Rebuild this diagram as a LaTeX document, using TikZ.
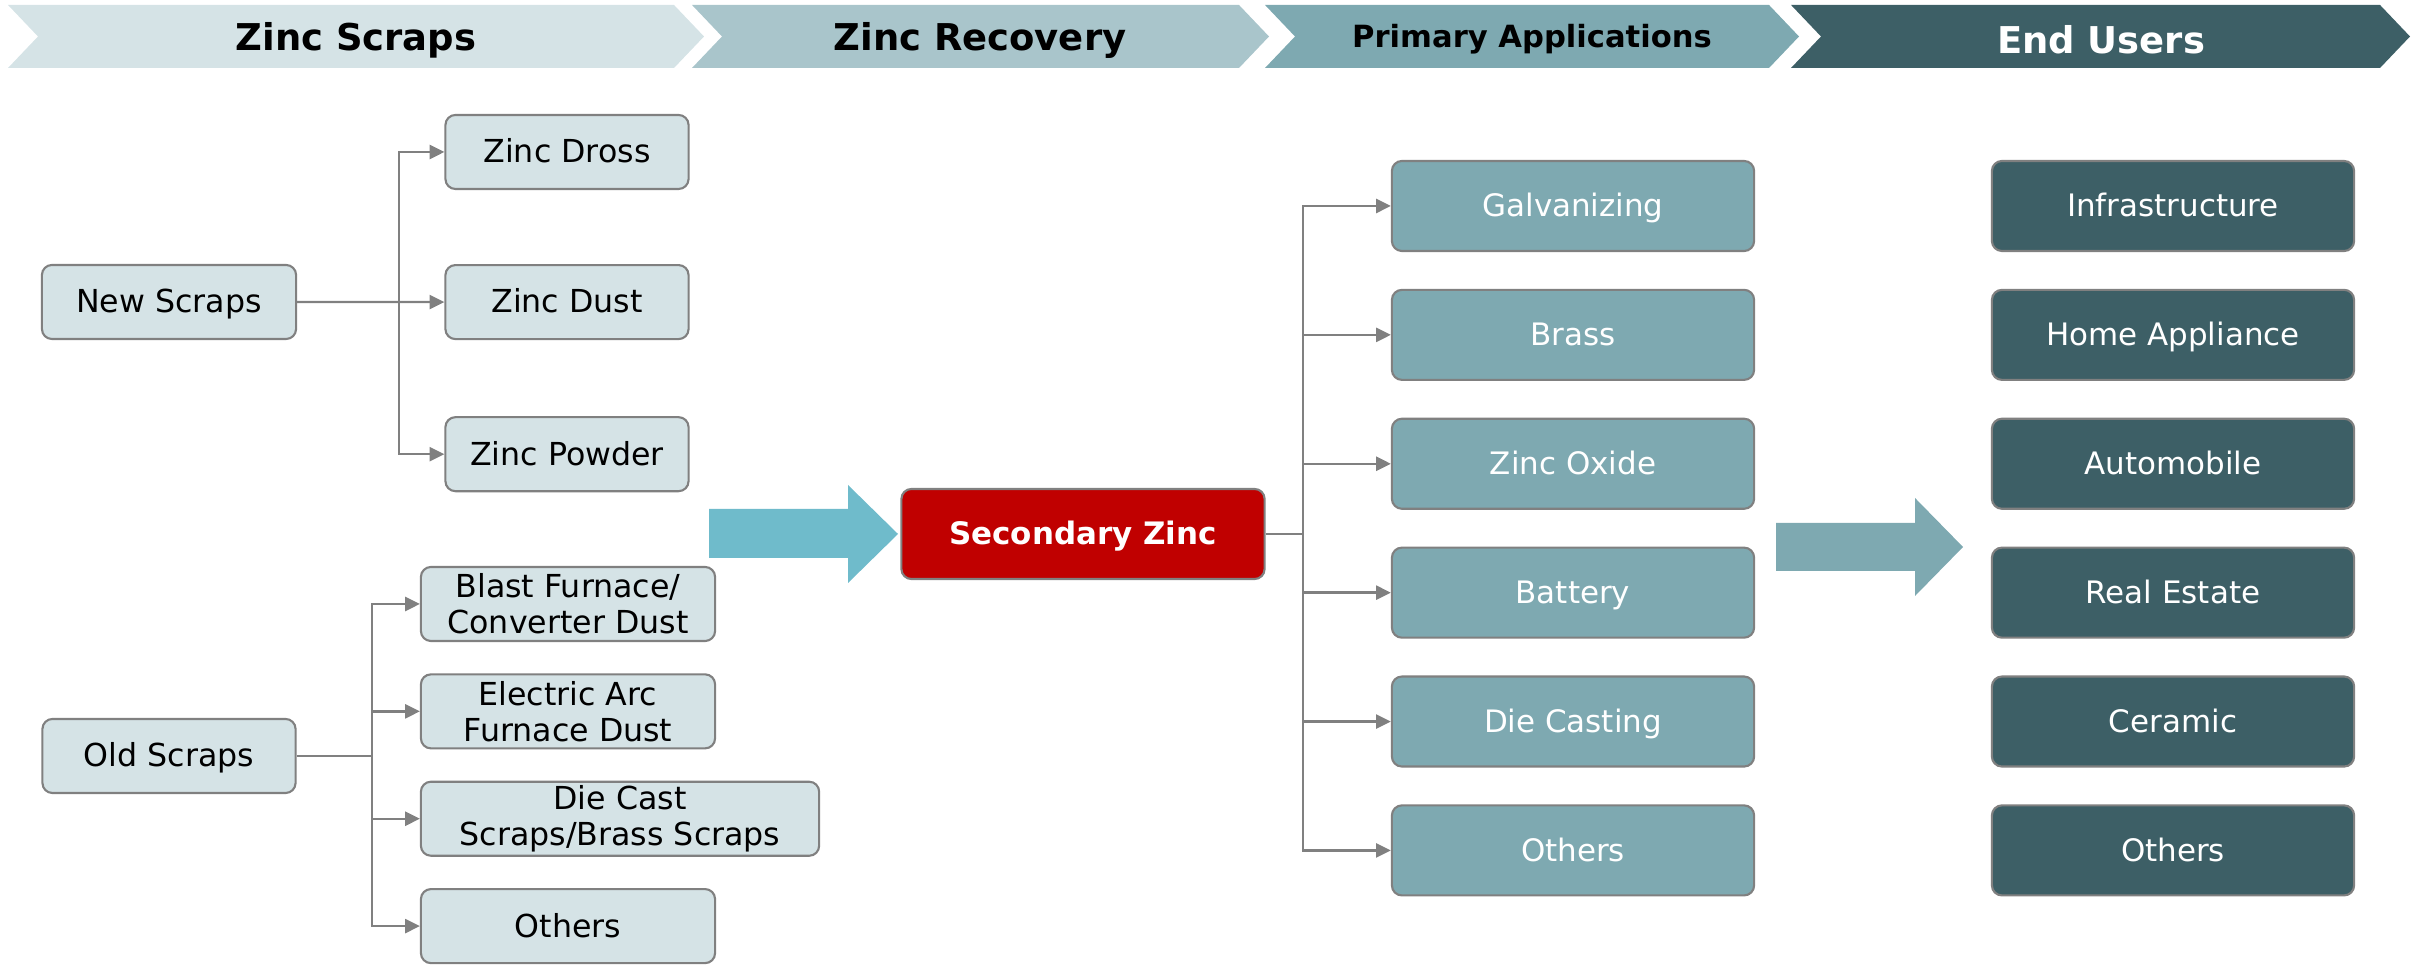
\documentclass[tikz,border=0pt]{standalone}
\usepackage{fontspec}
\setmainfont{DejaVu Sans}
\usetikzlibrary{shapes,positioning,arrows,arrows.meta,calc}
\usepackage{xcolor}

\definecolor{scrapfill}{HTML}{D5E3E6}
\definecolor{recfill}{HTML}{A9C5CB}
\definecolor{appfill}{HTML}{7EA9B1}
\definecolor{userfill}{HTML}{3D5F66}
\definecolor{zincred}{HTML}{C00000}
\definecolor{linegray}{HTML}{808080}
\definecolor{flowblue}{HTML}{6FBBCB}

\begin{document}
\begin{tikzpicture}[x=0.01cm,y=-0.01cm]

	\tikzstyle{lightbox}=[draw=linegray, line width=0.6pt, fill=scrapfill, rounded corners=1mm, minimum height=0.74cm, inner sep=0pt, align=center, text height=0.74em, text depth=0.12em, font=\fontsize{9}{10.2}\selectfont];
	\tikzstyle{twoline}=[text height=, text depth=];
	\tikzstyle{appbox}=[draw=linegray, line width=0.6pt, fill=appfill, rounded corners=1mm, minimum width=3.62cm, minimum height=0.9cm, inner sep=0pt, text=white, text height=0.74em, text depth=0.12em, font=\fontsize{8.8}{10}\selectfont];
	\tikzstyle{userbox}=[appbox, fill=userfill];
	\tikzstyle{headtext}=[font=\bfseries\fontsize{10.5}{12}\selectfont];
	\tikzstyle{conn}=[->, draw=linegray, line width=0.65pt];
	\tikzstyle{plain}=[draw=linegray, line width=0.65pt];

	\useasboundingbox (0,0) rectangle (2427,965);

    \begin{scope}[>={Triangle[length=4.2pt,width=4pt]}]

    	% header chevrons
    	\fill[scrapfill] (8,5) -- (674,5) -- (704,36.5) -- (674,68) -- (8,68) -- (38,36.5) -- cycle;
    	\fill[recfill] (692,5) -- (1239,5) -- (1269,36.5) -- (1239,68) -- (692,68) -- (722,36.5) -- cycle;
    	\fill[appfill] (1265,5) -- (1769,5) -- (1799,36.5) -- (1769,68) -- (1265,68) -- (1295,36.5) -- cycle;
    	\fill[userfill] (1791,5) -- (2380,5) -- (2410,36.5) -- (2380,68) -- (1791,68) -- (1821,36.5) -- cycle;

    	\node (hscrap) at (356,40) [headtext]{Zinc Scraps};
    	\node (hrecov) at (980,40) [headtext]{Zinc Recovery};
    	\node (happ) at (1532,39) [font=\bfseries\fontsize{8.7}{10}\selectfont]{Primary Applications};
    	\node (huser) at (2101,40) [headtext, text=white]{End Users};

    	% new scraps
    	\node (newscr) at (169,302) [lightbox, minimum width=2.54cm]{New Scraps};
    	\node (dross) at (567,152) [lightbox, minimum width=2.43cm]{Zinc Dross};
    	\node (dust) [below = 0.739cm of dross, lightbox, minimum width=2.43cm]{Zinc Dust};
    	\node (powder) [below = 0.759cm of dust, lightbox, minimum width=2.43cm]{Zinc Powder};

    	% old scraps
    	\node (oldscr) at (169,756) [lightbox, minimum width=2.53cm]{Old Scraps};
    	\node (blast) at (568,604) [lightbox, twoline, minimum width=2.94cm]{Blast Furnace/\\Converter Dust};
    	\node (arcdust) [below right = 0.312cm and 0cm of blast.south west, lightbox, twoline, minimum width=2.94cm]{Electric Arc\\Furnace Dust};
    	\node (diecast) [below right = 0.312cm and 0cm of arcdust.south west, lightbox, twoline, minimum width=3.98cm]{Die Cast\\Scraps/Brass Scraps};
    	\node (oldoth) [below right = 0.312cm and 0cm of diecast.south west, lightbox, minimum width=2.94cm]{Others};

    	% recovery
    	\fill[flowblue] (709,509) -- (848,509) -- (848,485) -- (898,534) -- (848,583) -- (848,558) -- (709,558) -- cycle;
    	\node (seczinc) at (1083,534) [appbox, fill=zincred, minimum width=3.63cm, font=\bfseries\fontsize{8.8}{10}\selectfont]{Secondary Zinc};

    	% applications
    	\node (galv) at (1573,206) [appbox]{Galvanizing};
    	\node (brass) [below = 0.367cm of galv, appbox]{Brass};
    	\node (oxide) [below = 0.367cm of brass, appbox]{Zinc Oxide};
    	\node (battery) [below = 0.367cm of oxide, appbox]{Battery};
    	\node (casting) [below = 0.367cm of battery, appbox]{Die Casting};
    	\node (appoth) [below = 0.367cm of casting, appbox]{Others};

    	\fill[appfill] (1776,523) -- (1915,523) -- (1915,498) -- (1963,547) -- (1915,596) -- (1915,571) -- (1776,571) -- cycle;

    	% end users
    	\node (infra) at (2173,206) [userbox]{Infrastructure};
    	\node (home) [below = 0.367cm of infra, userbox]{Home Appliance};
    	\node (auto) [below = 0.367cm of home, userbox]{Automobile};
    	\node (estate) [below = 0.367cm of auto, userbox]{Real Estate};
    	\node (ceramic) [below = 0.367cm of estate, userbox]{Ceramic};
    	\node (useroth) [below = 0.367cm of ceramic, userbox]{Others};

    	% connectors
    	\coordinate (nsplit) at (399,302);
    	\draw[conn] (newscr) -- (dust);
    	\draw[conn] (nsplit) |- (dross);
    	\draw[conn] (nsplit) |- (powder);

    	\coordinate (osplit) at (372,756);
    	\draw[plain] (oldscr) -- (osplit);
    	\draw[plain] (osplit |- blast) -- (osplit |- oldoth);
    	\foreach \n in {blast,arcdust,diecast,oldoth}
    		\draw[conn] (osplit) |- (\n);

    	\coordinate (ssplit) at (1303,534);
    	\draw[plain] (seczinc) -- (ssplit);
    	\foreach \n in {galv,brass,oxide,battery,casting,appoth}
    		\draw[conn] (ssplit) |- (\n);

    \end{scope}
    \end{tikzpicture}
\end{document}
